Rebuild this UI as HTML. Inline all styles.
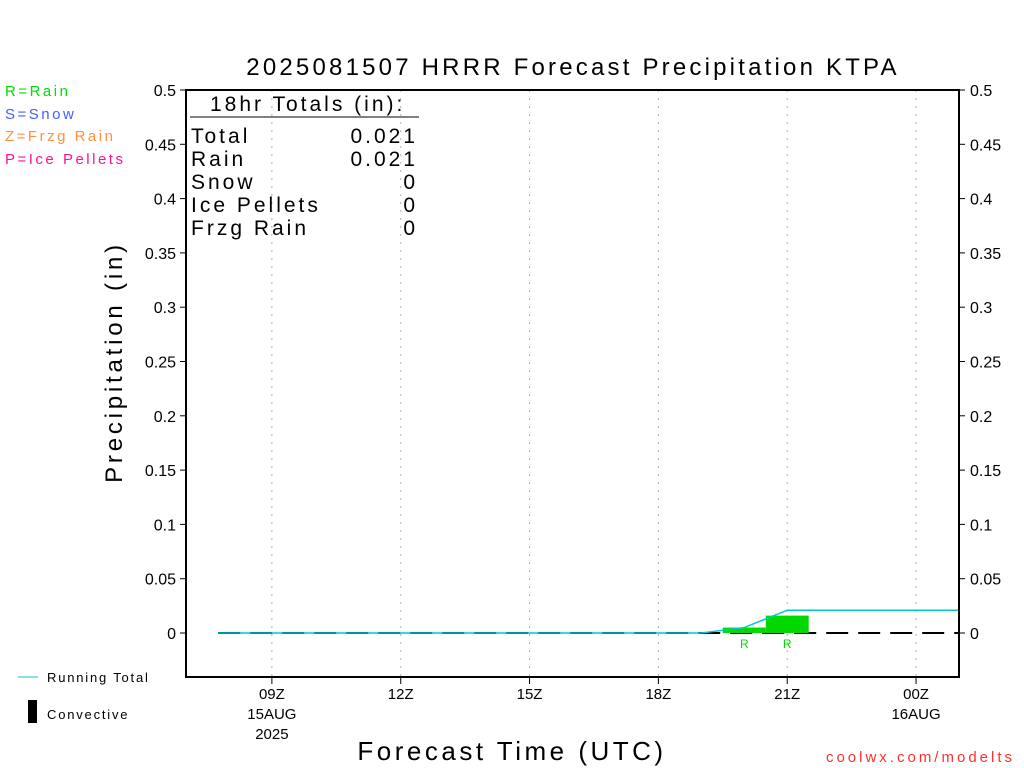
<!DOCTYPE html>
<html><head><meta charset="utf-8"><style>
body{margin:0;background:#fff;}
svg{display:block;font-family:"Liberation Sans",sans-serif;}
</style></head><body>
<svg id="chart" width="1024" height="768" viewBox="0 0 1024 768">
<text x="573" y="75" font-size="24" text-anchor="middle" letter-spacing="3.2" fill="#000">2025081507 HRRR Forecast Precipitation KTPA</text>
<g font-size="15" letter-spacing="2.5">
<text x="5" y="96" fill="#00e000">R=Rain</text>
<text x="5" y="119" fill="#4060ff">S=Snow</text>
<text x="5" y="141" fill="#ff9040">Z=Frzg Rain</text>
<text x="5" y="164" fill="#ff1493">P=Ice Pellets</text>
</g>
<g id="grid"></g>
<g id="marks"></g>
<rect x="186" y="90" width="773" height="587" fill="none" stroke="#000" stroke-width="2"/>
<g id="axes"></g>
<g font-size="21" letter-spacing="3" fill="#000">
<text x="210" y="111">18hr Totals (in):</text>
<line x1="190" y1="117" x2="419" y2="117" stroke="#000" stroke-width="1"/>
<text x="191" y="143">Total</text>
<text x="418" y="143" text-anchor="end">0.021</text>
<text x="191" y="166">Rain</text>
<text x="418" y="166" text-anchor="end">0.021</text>
<text x="191" y="189">Snow</text>
<text x="418" y="189" text-anchor="end">0</text>
<text x="191" y="212">Ice Pellets</text>
<text x="418" y="212" text-anchor="end">0</text>
<text x="191" y="235">Frzg Rain</text>
<text x="418" y="235" text-anchor="end">0</text>
</g>
<text transform="translate(122,362) rotate(-90)" font-size="24" letter-spacing="3.8" text-anchor="middle">Precipitation (in)</text>
<text x="512" y="760" font-size="26" letter-spacing="3.5" text-anchor="middle">Forecast Time (UTC)</text>
<g font-size="13" letter-spacing="1.8">
<line x1="18" y1="677" x2="38" y2="677" stroke="#00c8c8" stroke-width="1"/>
<text x="47" y="682">Running Total</text>
<rect x="28" y="700" width="9" height="23" fill="#000"/>
<text x="47" y="719">Convective</text>
</g>
<text x="1015" y="762" font-size="15" letter-spacing="3" fill="#ff3030" text-anchor="end">coolwx.com/modelts</text>
</svg>
<script>
const yTicks=[0,0.05,0.1,0.15,0.2,0.25,0.3,0.35,0.4,0.45,0.5];
const yTickLabels=["0","0.05","0.1","0.15","0.2","0.25","0.3","0.35","0.4","0.45","0.5"];
const xTickHours=[9,12,15,18,21,24];
const xTickLabels=["09Z","12Z","15Z","18Z","21Z","00Z"];
const xTickSub=["15AUG","","","","","16AUG"];
const barHours=[20,21];
const barValues=[0.005,0.016];
const totalHours=[7.75,19,20,21,25];
const totalValues=[0,0,0.005,0.021,0.021];
const NS="http://www.w3.org/2000/svg";
const X=h=>186+(h-7)*(773/18);
const Y=v=>633-v*1086;
function mk(tag,attrs,parent,txt){const e=document.createElementNS(NS,tag);for(const k in attrs)e.setAttribute(k,attrs[k]);if(txt!==undefined)e.textContent=txt;parent.appendChild(e);return e;}
const grid=document.getElementById('grid'),marks=document.getElementById('marks'),axes=document.getElementById('axes');
xTickHours.forEach((h,i)=>{
 const g=mk('line',{x1:X(h),x2:X(h),y1:90,y2:677,stroke:'#b0b0b0','stroke-dasharray':'2,6'},grid);
 
 
 const t=mk('line',{x1:X(h),x2:X(h),y1:677,y2:684,stroke:'#000'},axes);
 
 
 const l=mk('text',{x:X(h),y:699,'font-size':15,'text-anchor':'middle'},axes,xTickLabels[i]);
 
 
 if(xTickSub[i]){const s=mk('text',{x:X(h),y:719,'font-size':15,'text-anchor':'middle'},axes,xTickSub[i]);
 
 }
 if(i===0){const s=mk('text',{x:X(h),y:739,'font-size':15,'text-anchor':'middle'},axes,'2025');
 
 }
});
yTicks.forEach((v,i)=>{
 [[180,186,176,'end'],[959,965,970,'start']].forEach(([a,b,tx,an])=>{
  const t=mk('line',{x1:a,x2:b,y1:Y(v),y2:Y(v),stroke:'#000'},axes);
  
  
  const l=mk('text',{x:tx,y:Y(v)+6,'font-size':16,'text-anchor':an},axes,yTickLabels[i]);
  
  
 });
});
const z=mk('line',{x1:X(7.75),x2:959,y1:Y(0),y2:Y(0),stroke:'#000','stroke-width':2,'stroke-dasharray':'22,10'},marks);


barHours.forEach((h,i)=>{
 const r=mk('rect',{x:X(h-0.5),y:Y(barValues[i]),width:X(h+0.5)-X(h-0.5),height:Y(0)-Y(barValues[i]),fill:'#00d800'},marks);
 
 
 const l=mk('text',{x:X(h),y:Y(0)+15,'font-size':12,fill:'#00d800','text-anchor':'middle'},marks,'R');
 
 
});
const p=mk('polyline',{points:totalHours.map((h,i)=>X(Math.min(h,25))+','+Y(totalValues[i])).join(' '),fill:'none',stroke:'#00c8c8','stroke-width':1.5},marks);


</script>
</body></html>
